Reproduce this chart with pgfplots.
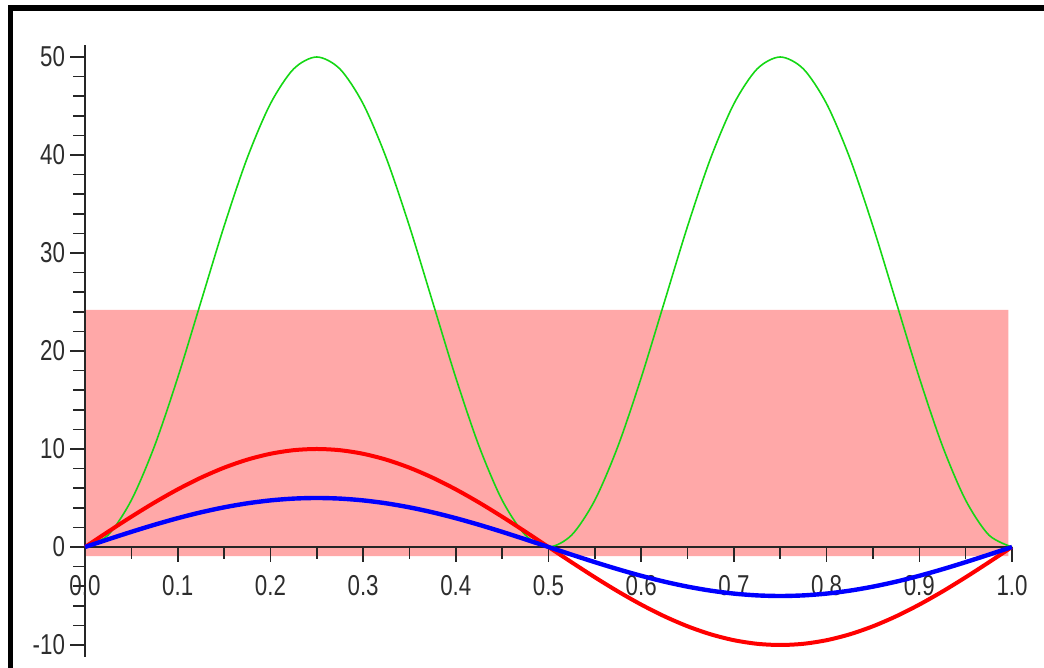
\documentclass[border=0pt]{standalone}
\usepackage{graphicx}
\usepackage{pgfplots}
\pgfplotsset{compat=1.18}
\usepackage{fontspec}
\setmainfont{Liberation Sans}
\definecolor{grn}{RGB}{20,215,20}
\definecolor{pinkfill}{RGB}{255,168,168}
\definecolor{lbl}{RGB}{45,45,45}
\newcommand\tl[1]{\scalebox{0.97}[1.25]{#1}}
\begin{document}
\begin{tikzpicture}
\begin{axis}[
  set layers,
  anchor=origin, at={(42.5pt,60.5pt)},
  x=463.5pt, y=4.9pt,
  xmin=0, xmax=1, ymin=-11.2, ymax=51.2,
  axis lines=middle,
  hide obscured x ticks=false,
  hide obscured y ticks=false,
  axis line style={-, black!85, line width=0.8pt},
  tick align=outside,
  tick style={black!85, line width=0.8pt},
  major tick length=7.5pt, minor tick length=6pt,
  xtick={0,0.1,...,1.0},
  xticklabels={\tl{0.0},\tl{0.1},\tl{0.2},\tl{0.3},\tl{0.4},\tl{0.5},\tl{0.6},\tl{0.7},\tl{0.8},\tl{0.9},\tl{1.0}},
  minor x tick num=1,
  ytick={-10,0,10,20,30,40,50},
  yticklabels={\tl{-10},\tl{0},\tl{10},\tl{20},\tl{30},\tl{40},\tl{50}},
  minor y tick num=4,
  tick label style={font=\fontsize{11.5}{13}\selectfont, text=lbl},
  xticklabel style={yshift=-3pt},
  yticklabel style={xshift=1pt},
  clip=false,
]
\addplot[fill=pinkfill, draw=none, on layer=axis background] coordinates {(0,-0.92) (0.996,-0.92) (0.996,24.2) (0,24.2) (0,-0.92)};
\addplot[grn, line width=0.8pt, smooth] coordinates {
(0,0) (0.025,1.224) (0.05,4.775) (0.075,10.305) (0.1,17.275) (0.125,25) (0.15,32.725) (0.175,39.695) (0.2,45.225) (0.225,48.776) (0.25,50)
(0.275,48.776) (0.3,45.225) (0.325,39.695) (0.35,32.725) (0.375,25) (0.4,17.275) (0.425,10.305) (0.45,4.775) (0.475,1.224) (0.5,0)
(0.525,1.224) (0.55,4.775) (0.575,10.305) (0.6,17.275) (0.625,25) (0.65,32.725) (0.675,39.695) (0.7,45.225) (0.725,48.776) (0.75,50)
(0.775,48.776) (0.8,45.225) (0.825,39.695) (0.85,32.725) (0.875,25) (0.9,17.275) (0.925,10.305) (0.95,4.775) (0.975,1.224) (1,0)};
\addplot[red, line width=2pt, smooth] coordinates {
(0,0) (0.025,1.564) (0.05,3.090) (0.075,4.540) (0.1,5.878) (0.125,7.071) (0.15,8.090) (0.175,8.910) (0.2,9.511) (0.225,9.877) (0.25,10)
(0.275,9.877) (0.3,9.511) (0.325,8.910) (0.35,8.090) (0.375,7.071) (0.4,5.878) (0.425,4.540) (0.45,3.090) (0.475,1.564) (0.5,0)
(0.525,-1.564) (0.55,-3.090) (0.575,-4.540) (0.6,-5.878) (0.625,-7.071) (0.65,-8.090) (0.675,-8.910) (0.7,-9.511) (0.725,-9.877) (0.75,-10)
(0.775,-9.877) (0.8,-9.511) (0.825,-8.910) (0.85,-8.090) (0.875,-7.071) (0.9,-5.878) (0.925,-4.540) (0.95,-3.090) (0.975,-1.564) (1,0)};
\addplot[blue, line width=2.2pt, smooth] coordinates {
(0,0) (0.025,0.782) (0.05,1.545) (0.075,2.270) (0.1,2.939) (0.125,3.536) (0.15,4.045) (0.175,4.455) (0.2,4.755) (0.225,4.938) (0.25,5)
(0.275,4.938) (0.3,4.755) (0.325,4.455) (0.35,4.045) (0.375,3.536) (0.4,2.939) (0.425,2.270) (0.45,1.545) (0.475,0.782) (0.5,0)
(0.525,-0.782) (0.55,-1.545) (0.575,-2.270) (0.6,-2.939) (0.625,-3.536) (0.65,-4.045) (0.675,-4.455) (0.7,-4.755) (0.725,-4.938) (0.75,-5)
(0.775,-4.938) (0.8,-4.755) (0.825,-4.455) (0.85,-4.045) (0.875,-3.536) (0.9,-2.939) (0.925,-2.270) (0.95,-1.545) (0.975,-0.782) (1,0)};
\end{axis}
\fill[black] (4pt,334pt-2.5pt) rectangle (522pt,334pt-5.5pt);
\fill[black] (4pt,0pt) rectangle (6.5pt,334pt-2.5pt);
\pgfresetboundingbox
\useasboundingbox (0,0) rectangle (522pt,334pt);
\end{tikzpicture}
\end{document}
